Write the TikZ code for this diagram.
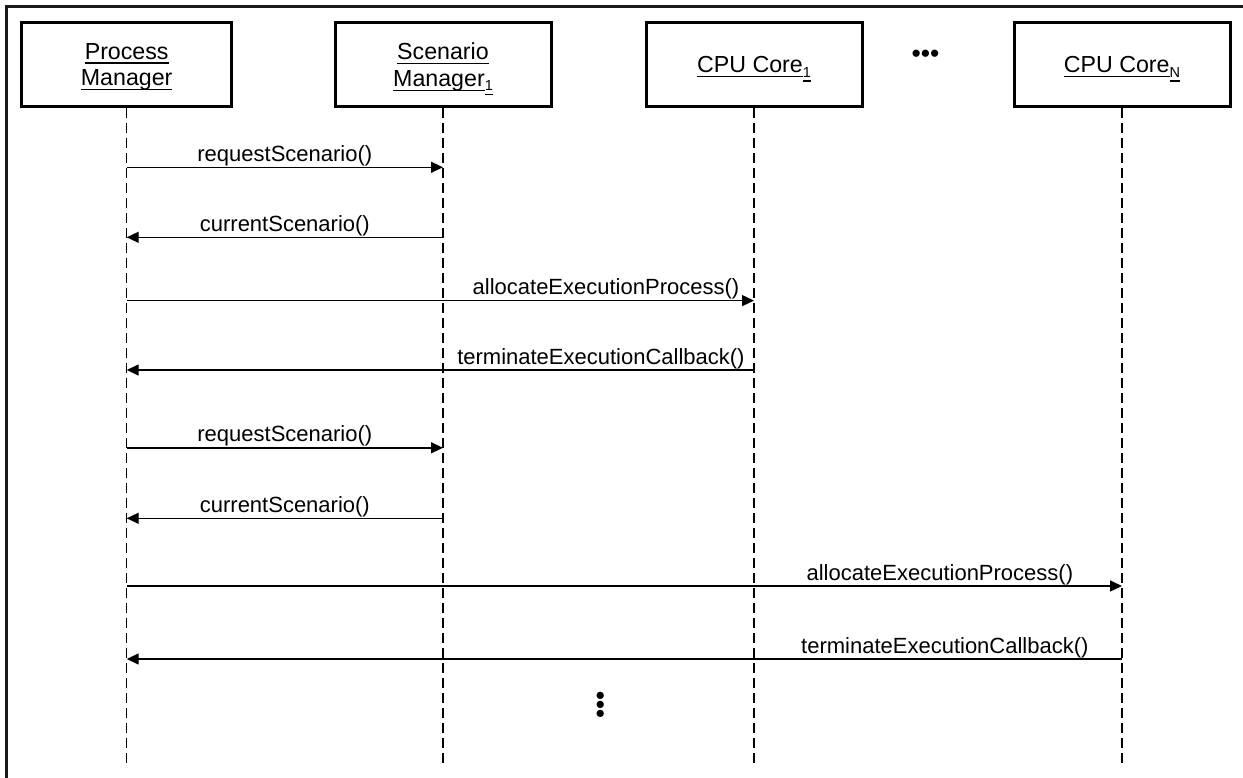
\documentclass[tikz,border=0pt]{standalone}
\usepackage{fontspec}
\setmainfont{Liberation Sans}
\usetikzlibrary{arrows.meta,calc}

\newcommand\myul[1]{\setbox0\hbox{#1}\rlap{\rule[-4.6bp]{\wd0}{1.3bp}}\box0}
\newcommand\mysub[1]{\raisebox{-4.5bp}{\fontsize{14.5bp}{14.5bp}\selectfont\myul{#1}}}

\tikzset{
  frameline/.style={line width=2.5bp, draw=black!90},
  actor/.style={draw, line width=3bp, minimum height=84bp, align=center, inner sep=0pt,
    text depth=0pt, font=\fontsize{23.2bp}{26.7bp}\selectfont},
  pmbox/.style={actor, minimum width=210bp},
  cpubox/.style={actor, minimum width=216bp},
  life/.style={line width=1.2bp, dash pattern=on 10bp off 5bp},
  msg/.style={line width=1.4bp, -{Triangle[length=12bp,width=11bp]}},
  lbl/.style={anchor=base, yshift=6bp, inner sep=0pt, font=\fontsize{22bp}{26bp}\selectfont},
  dotsym/.style={inner sep=0pt, font=\fontsize{26.5bp}{26.5bp}\selectfont}
}

\begin{document}
\begin{tikzpicture}[x=1bp, y=-1bp]
\useasboundingbox (0,0) rectangle (1243,778);
\draw[frameline] (1243,6.5) -- (6.5,6.5) -- (6.5,778);

% actors
\node[pmbox]  (pm) at (126.7,64.5) {\myul{Process}\\\myul{Manager}};
\node[cpubox] (sm) at (443,64.5) {\myul{Scenario}\\\myul{Manager}\mysub{1}};
\node[cpubox] (c1) at (754,64.5) {\myul{CPU Core}\mysub{1}};
\node[cpubox] (cn) at (1122,64.5) {\myul{CPU Core}\mysub{N}};
\node[dotsym] (hdots) at (925.5,56) {•••};

% lifelines
\coordinate (bot) at (0,768);
\coordinate (pmend) at (pm.south |- bot);
\coordinate (smend) at (sm.south |- bot);
\coordinate (c1end) at (c1.south |- bot);
\coordinate (cnend) at (cn.south |- bot);
\draw[life] (pm.south) -- (pmend);
\draw[life] (sm.south) -- (smend);
\draw[life] (c1.south) -- (c1end);
\draw[life] (cn.south) -- (cnend);

% message rows
\coordinate (m1) at (0,167.3);
\coordinate (m2) at (0,237.3);
\coordinate (m3) at (0,300.6);
\coordinate (m4) at (0,370);
\coordinate (m5) at (0,447.8);
\coordinate (m6) at (0,518.3);
\coordinate (m7) at (0,586);
\coordinate (m8) at (0,659);

\draw[msg] (pm |- m1) -- node[lbl, pos=0.5] {requestScenario()} (sm |- m1);
\draw[msg] (sm |- m2) -- node[lbl, pos=0.5] {currentScenario()} (pm |- m2);
\draw[msg] (pm |- m3) -- node[lbl, pos=0.764] {allocateExecutionProcess()} (c1 |- m3);
\draw[msg] (c1 |- m4) -- node[lbl, pos=0.244] {terminateExecutionCallback()} (pm |- m4);
\draw[msg] (pm |- m5) -- node[lbl, pos=0.5] {requestScenario()} (sm |- m5);
\draw[msg] (sm |- m6) -- node[lbl, pos=0.5] {currentScenario()} (pm |- m6);
\draw[msg] (pm |- m7) -- node[lbl, pos=0.817] {allocateExecutionProcess()} (cn |- m7);
\draw[msg] (cn |- m8) -- node[lbl, pos=0.178] {terminateExecutionCallback()} (pm |- m8);

\node[dotsym, rotate=90] (vdots) at (603,705) {•••};
\end{tikzpicture}
\end{document}
